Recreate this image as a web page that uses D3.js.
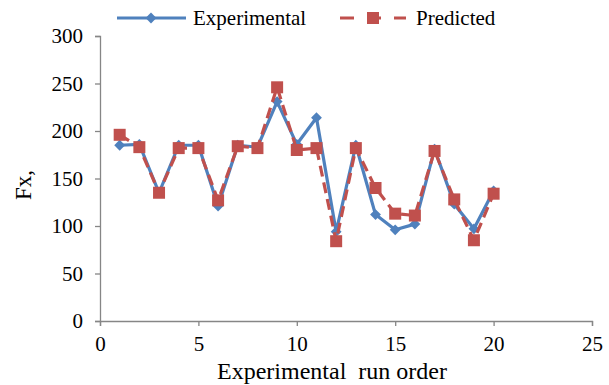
<!DOCTYPE html>
<html>
<head>
<meta charset="utf-8">
<script src="https://cdn.jsdelivr.net/npm/d3@7"></script>
<style>
  body { margin: 0; background: #fff; }
  text { font-family: "Liberation Serif", "Times New Roman", serif; fill: #000; }
</style>
</head>
<body>
<div id="chart"></div>
<script>
const runOrder = [1, 2, 3, 4, 5, 6, 7, 8, 9, 10, 11, 12, 13, 14, 15, 16, 17, 18, 19, 20];
const experimental = [185, 186, 135, 185, 185, 121, 185, 183, 231, 186, 214, 94, 185, 112, 96, 102, 181, 123, 97, 137];
const predicted = [196, 183, 135, 182, 182, 127, 184, 182, 246, 180, 182, 84, 182, 140, 113, 111, 179, 128, 85, 134];
const xTicks = [0, 5, 10, 15, 20, 25];
const yTicks = [0, 50, 100, 150, 200, 250, 300];

const width = 609, height = 385;
const margin = { top: 36, right: 17, bottom: 64, left: 100 };

const blue = "#4f81bd", red = "#c0504d", axisColor = "#868686";
const serif = "'Liberation Serif', 'Times New Roman', serif";

const svg = d3.select("#chart").append("svg")
    .attr("width", width)
    .attr("height", height);

const x = d3.scaleLinear()
    .domain([0, 25])
    .range([margin.left, width - margin.right]);

const y = d3.scaleLinear()
    .domain([0, 300])
    .range([height - margin.bottom, margin.top]);

// axes
const xAxis = svg.append("g")
    .attr("transform", `translate(0,${y(0)})`)
    .call(d3.axisBottom(x).tickValues(xTicks).tickSizeOuter(0).tickSize(5).tickPadding(10));

const yAxis = svg.append("g")
    .attr("transform", `translate(${x(0)},0)`)
    .call(d3.axisLeft(y).tickValues(yTicks).tickSizeOuter(0).tickSize(5).tickPadding(12));

[xAxis, yAxis].forEach(g => {
  g.attr("font-family", serif).attr("font-size", 21);
  g.selectAll("path, line").attr("stroke", axisColor).attr("stroke-width", 1.3);
  g.selectAll("text").attr("fill", "#000");
});

svg.append("text")
    .attr("x", 332)
    .attr("y", 379)
    .attr("text-anchor", "middle")
    .style("font-size", "24px")
    .style("white-space", "pre")
    .text("Experimental  run order");

svg.append("text")
    .attr("transform", "translate(31,185) rotate(-90)")
    .attr("text-anchor", "middle")
    .style("font-size", "23px")
    .text("Fx,");

const data = runOrder.map((d, i) => ({ run: d, exp: experimental[i], pred: predicted[i] }));

const lineExp = d3.line().x(d => x(d.run)).y(d => y(d.exp));
const linePred = d3.line().x(d => x(d.run)).y(d => y(d.pred));

const diamond = d3.symbol().type(d3.symbolDiamond2).size(75);

// experimental
svg.append("path")
    .datum(data)
    .attr("fill", "none")
    .attr("stroke", blue)
    .attr("stroke-width", 3.2)
    .attr("stroke-linejoin", "round")
    .attr("d", lineExp);

svg.append("g").selectAll("path")
    .data(data)
    .join("path")
    .attr("transform", d => `translate(${x(d.run)},${y(d.exp)})`)
    .attr("d", diamond)
    .attr("fill", blue);

// predicted
svg.append("path")
    .datum(data)
    .attr("fill", "none")
    .attr("stroke", red)
    .attr("stroke-width", 3.2)
    .attr("stroke-dasharray", "11,6")
    .attr("d", linePred);

svg.append("g").selectAll("rect")
    .data(data)
    .join("rect")
    .attr("x", d => x(d.run) - 6)
    .attr("y", d => y(d.pred) - 6)
    .attr("width", 12)
    .attr("height", 12)
    .attr("fill", red);

// legend
const lg = svg.append("g");
lg.append("line")
    .attr("x1", 117).attr("x2", 186).attr("y1", 18).attr("y2", 18)
    .attr("stroke", blue).attr("stroke-width", 3.2);
lg.append("path")
    .attr("transform", "translate(151,18)")
    .attr("d", diamond)
    .attr("fill", blue);
lg.append("text")
    .attr("x", 193).attr("y", 25)
    .style("font-size", "21px")
    .text("Experimental");

lg.append("line")
    .attr("x1", 340).attr("x2", 406).attr("y1", 18).attr("y2", 18)
    .attr("stroke", red).attr("stroke-width", 3.2)
    .attr("stroke-dasharray", "14,13");
lg.append("rect")
    .attr("x", 367).attr("y", 12).attr("width", 12).attr("height", 12)
    .attr("fill", red);
lg.append("text")
    .attr("x", 416).attr("y", 25)
    .style("font-size", "21px")
    .text("Predicted");
</script>
</body>
</html>
